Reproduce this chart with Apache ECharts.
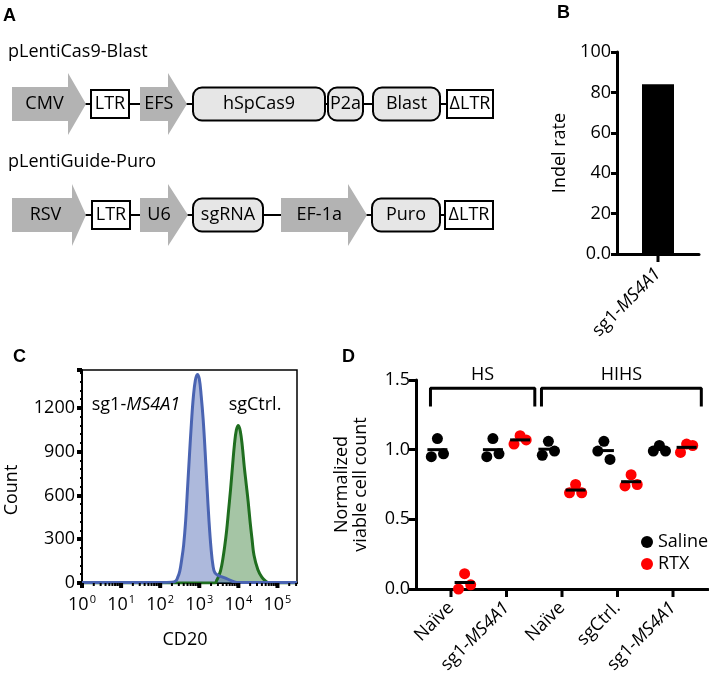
<!DOCTYPE html>
<html><head><meta charset="utf-8">
<script src="https://cdn.jsdelivr.net/npm/echarts@6/dist/echarts.min.js"></script>
<style>html,body{margin:0;padding:0;background:#fff}#c{width:709px;height:682px}</style>
</head><body><div id="c"></div>
<script>
// ---------------- DATA ----------------
// Panel A: vector constructs
const constructNames = ['pLentiCas9-Blast', 'pLentiGuide-Puro'];
const cas9Parts = ['CMV', 'LTR', 'EFS', 'hSpCas9', 'P2a', 'Blast', '\u0394LTR'];
const cas9Kinds = ['promoter', 'ltr', 'promoter', 'gene', 'gene', 'gene', 'ltr'];
const guideParts = ['RSV', 'LTR', 'U6', 'sgRNA', 'EF-1a', 'Puro', '\u0394LTR'];
const guideKinds = ['promoter', 'ltr', 'promoter', 'gene', 'promoter', 'gene', 'ltr'];

// Panel B: indel rate
const indelCategories = ['sg1-MS4A1'];
const indelRate = [84];
const indelTicks = [0, 20, 40, 60, 80, 100];

// Panel C: CD20 histograms (x = log10 CD20 intensity, y = count)
const sgMS4A1Log10 = [0, 1, 2, 2.3, 2.4, 2.45, 2.5, 2.55, 2.6, 2.65, 2.7, 2.75, 2.8, 2.85, 2.9, 2.95, 3.0, 3.05, 3.1, 3.15, 3.2, 3.25, 3.3, 3.35, 3.4, 3.5, 3.6, 3.7, 3.8, 3.9, 4.0, 5.5];
const sgMS4A1Count = [4, 4, 4, 6, 15, 40, 80, 160, 260, 420, 650, 880, 1100, 1280, 1390, 1430, 1400, 1280, 1120, 900, 650, 420, 240, 120, 70, 50, 40, 30, 18, 8, 4, 4];
const sgCtrlLog10 = [0, 3.4, 3.45, 3.5, 3.55, 3.6, 3.65, 3.7, 3.75, 3.8, 3.85, 3.9, 3.95, 4.0, 4.05, 4.1, 4.15, 4.2, 4.25, 4.3, 4.35, 4.4, 4.5, 4.6, 4.7, 4.8, 5.5];
const sgCtrlCount = [0, 0, 20, 50, 90, 160, 250, 360, 500, 640, 800, 950, 1050, 1080, 1040, 940, 800, 680, 560, 420, 300, 190, 90, 40, 12, 0, 0];
const countTicks = [0, 300, 600, 900, 1200];
const decadeTicks = [0, 1, 2, 3, 4, 5];

// Panel D: normalized viable cell count
const groupLabels = ['Na\u00efve', 'sg1-MS4A1', 'Na\u00efve', 'sgCtrl.', 'sg1-MS4A1'];
const bracketLabels = ['HS', 'HIHS'];
const bracketGroups = [[0, 1], [2, 4]];
const salineValues = [[0.95, 1.08, 0.97], [0.95, 1.08, 0.97], [0.96, 1.06, 0.99], [0.99, 1.06, 0.93], [0.99, 1.03, 0.99]];
const rtxValues = [[0.0, 0.11, 0.03], [1.04, 1.10, 1.07], [0.69, 0.75, 0.69], [0.74, 0.82, 0.75], [0.98, 1.04, 1.03]];
const viableTicks = [0, 0.5, 1.0, 1.5];

// ---------------- RENDER ----------------
const FONT = "'Open Sans', sans-serif";
const BOLD = "'Liberation Sans', Arial, sans-serif";
const chart = echarts.init(document.getElementById('c'));
const italicRich = {
  n: { fontSize: 18, fontFamily: FONT, color: '#000' },
  i: { fontSize: 18, fontFamily: FONT, color: '#000', fontStyle: 'italic' }
};
function richName(s) {
  const k = s.indexOf('MS4A1');
  if (k < 0) return '{n|' + s + '}';
  return '{n|' + s.slice(0, k) + '}{i|MS4A1}';
}

// ---- Panel A graphics ----
const G = [];
function text(x, y, t, o, rot) {
  const el = { type: 'text', x: x, y: y, z: 20, style: Object.assign({ text: t, fontSize: 18, fontFamily: FONT, fill: '#000', textAlign: 'center', textVerticalAlign: 'middle' }, o || {}) };
  if (rot) el.rotation = rot;
  G.push(el);
}
function drawConstruct(parts, kinds, layout, cy) {
  const BH = 34, HH = 62, GH = 33, LH = 28;
  const ends = [], starts = [];
  parts.forEach((p, i) => {
    const L = layout[i], k = kinds[i];
    if (k === 'promoter') {
      const [x0, x1, tip] = L;
      G.push({ type: 'polygon', z: 5, shape: { points: [[x0, cy - BH / 2], [x1, cy - BH / 2], [x1, cy - HH / 2], [tip, cy], [x1, cy + HH / 2], [x1, cy + BH / 2], [x0, cy + BH / 2]] }, style: { fill: '#b3b3b3' } });
      text((x0 + x1) / 2 + (tip - x1) * 0.25, cy, p);
      starts.push(x0); ends.push(tip);
    } else if (k === 'gene') {
      const [x0, x1] = L;
      G.push({ type: 'rect', z: 5, shape: { x: x0, y: cy - GH / 2, width: x1 - x0, height: GH, r: 9 }, style: { fill: '#e6e6e6', stroke: '#000', lineWidth: 2 } });
      text((x0 + x1) / 2, cy, p);
      starts.push(x0); ends.push(x1);
    } else {
      const [x0, x1] = L;
      G.push({ type: 'rect', z: 5, shape: { x: x0, y: cy - LH / 2, width: x1 - x0, height: LH }, style: { fill: '#fff', stroke: '#000', lineWidth: 2 } });
      text((x0 + x1) / 2, cy, p);
      starts.push(x0); ends.push(x1);
    }
  });
  for (let i = 0; i + 1 < parts.length; i++) {
    G.push({ type: 'line', z: 4, shape: { x1: ends[i] - 1, y1: cy, x2: starts[i + 1] + 1, y2: cy }, style: { stroke: '#000', lineWidth: 2 } });
  }
}
drawConstruct(cas9Parts, cas9Kinds, [[12, 68, 86], [91, 129], [140, 168, 187], [193, 325], [328, 363], [373, 440], [447, 493]], 104);
drawConstruct(guideParts, guideKinds, [[12, 72, 86], [92, 130], [140, 168, 188], [193, 263], [281, 348, 367], [372, 440], [445, 493]], 215);
text(8, 52, constructNames[0], { textAlign: 'left' });
text(8, 162, constructNames[1], { textAlign: 'left' });
// Panel letters
[['A', 3, 16], ['B', 557, 13], ['C', 13, 357], ['D', 342, 357]].forEach(a => text(a[1], a[2], a[0], { textAlign: 'left', fontFamily: BOLD, fontWeight: 'bold', fontSize: 18 }));
// Panel C annotations
G.push({ type: 'text', x: 136, y: 405, z: 20, style: { text: richName('sg1-MS4A1'), rich: italicRich, textAlign: 'center', textVerticalAlign: 'middle' } });
text(255, 405, 'sgCtrl.');
text(12, 490, 'Count', null, Math.PI / 2);
text(185, 640, 'CD20');

// ---- Panel D series data ----
const SAL_OFF = -0.245, RTX_OFF = 0.245, JIT = [-0.11, 0, 0.11];
const mean = a => a.reduce((s, v) => s + v, 0) / a.length;
const salinePts = [], rtxPts = [], meanPts = [];
salineValues.forEach((vals, g) => { vals.forEach((v, k) => salinePts.push([g + SAL_OFF + JIT[k], v])); meanPts.push([g + SAL_OFF, mean(vals)]); });
rtxValues.forEach((vals, g) => { vals.forEach((v, k) => rtxPts.push([g + RTX_OFF + JIT[k], v])); meanPts.push([g + RTX_OFF, mean(vals)]); });
const BR_TOP = 1.44, BR_LEG = 1.31;
const bracketSeries = bracketGroups.map((gr, b) => {
  const x0 = gr[0] - 0.37, x1 = gr[1] + 0.51;
  return {
    type: 'line', xAxisIndex: 2, yAxisIndex: 2, symbol: 'none', silent: true,
    lineStyle: { color: '#000', width: 3 },
    data: [[x0, BR_LEG], [x0, BR_TOP], [x1, BR_TOP], [x1, BR_LEG]],
    markPoint: {
      symbol: 'circle', symbolSize: 0,
      label: { show: true, position: 'top', distance: 4, formatter: bracketLabels[b], color: '#000', fontSize: 18, fontFamily: FONT },
      data: [{ coord: [(x0 + x1) / 2, BR_TOP] }]
    }
  };
});

const logMinor = [];
decadeTicks.forEach(d => { for (let k = 2; k <= 9; k++) { const v = d + Math.log10(k); if (v < 5.5) logMinor.push(v); } });

// Panel D geometry: group spacing (px) and grid
const D_LEFT = 416, D_WIDTH = 292, D_TOP = 380, D_HEIGHT = 209, D_G0 = 451, D_STEP = 55.5;
const dMin = (D_LEFT - D_G0) / D_STEP, dMax = (D_LEFT + D_WIDTH - D_G0) / D_STEP;

const tickLine = { color: '#000', width: 3 };
const option = {
  animation: false,
  backgroundColor: '#fff',
  textStyle: { fontFamily: FONT },
  graphic: G,
  grid: [
    { left: 617, top: 52, width: 82, height: 202 },
    { left: 82, top: 370, width: 215, height: 213, show: true, borderColor: '#000', borderWidth: 1.5, backgroundColor: 'transparent' },
    { left: D_LEFT, top: D_TOP, width: D_WIDTH, height: D_HEIGHT },
    { left: D_G0 - D_STEP / 2, top: D_TOP, width: D_STEP * groupLabels.length, height: D_HEIGHT }
  ],
  xAxis: [
    { gridIndex: 0, type: 'category', data: indelCategories,
      axisLine: { lineStyle: tickLine }, axisTick: { show: false },
      axisLabel: { rotate: 45, margin: 17, formatter: v => richName(v), rich: italicRich } },
    { gridIndex: 1, type: 'value', min: 0, max: 5.5, interval: 1,
      axisLine: { onZero: false, lineStyle: { color: '#000', width: 2 } },
      axisTick: { show: false }, minorTick: { show: false },
      splitLine: { show: false },
      axisLabel: { margin: 11, showMaxLabel: false, formatter: v => Number.isInteger(v) ? '{b|10}{s|' + v + '}' : '',
        rich: { b: { fontSize: 18, fontFamily: FONT, color: '#000', lineHeight: 22 }, s: { fontSize: 11, fontFamily: FONT, color: '#000', verticalAlign: 'top', lineHeight: 22, padding: [0, 0, 8, 1] } } } },
    { gridIndex: 2, type: 'value', min: dMin, max: dMax,
      axisLine: { onZero: false, lineStyle: tickLine },
      axisTick: { show: false }, axisLabel: { show: false },
      splitLine: { show: false } },
    { gridIndex: 3, type: 'category', data: groupLabels,
      axisLine: { show: false }, axisTick: { show: false },
      axisLabel: { rotate: 45, margin: 16, interval: 0, formatter: v => richName(v), rich: italicRich } }
  ],
  yAxis: [
    { gridIndex: 0, type: 'value', min: 0, max: 100, interval: 20,
      axisLine: { show: true, onZero: false, lineStyle: tickLine }, axisTick: { show: true, length: 6, lineStyle: tickLine },
      splitLine: { show: false },
      axisLabel: { color: '#000', fontSize: 18, fontFamily: FONT, margin: 6, formatter: v => v === 0 ? '0.0' : String(v) },
      name: 'Indel rate', nameLocation: 'middle', nameGap: 48, nameTextStyle: { color: '#000', fontSize: 18, fontFamily: FONT } },
    { gridIndex: 1, type: 'value', min: 0, max: 1460, interval: 300,
      axisLine: { show: true, onZero: false, lineStyle: { color: '#000', width: 2 } },
      axisTick: { show: true, length: 5, lineStyle: { color: '#000', width: 4 } },
      minorTick: { show: true, splitNumber: 5, length: 2, lineStyle: { color: '#000', width: 2 } },
      splitLine: { show: false },
      axisLabel: { showMaxLabel: false, color: '#000', fontSize: 18, fontFamily: FONT, margin: 7, formatter: v => (v % 300 === 0 ? String(v) : '') } },
    { gridIndex: 2, type: 'value', min: 0, max: 1.5, interval: 0.5,
      axisLine: { show: true, onZero: false, lineStyle: tickLine }, axisTick: { show: true, length: 7, lineStyle: tickLine },
      splitLine: { show: false },
      axisLabel: { color: '#000', fontSize: 18, fontFamily: FONT, margin: 6, formatter: v => v.toFixed(1) },
      name: 'Normalized\nviable cell count', nameLocation: 'middle', nameGap: 46,
      nameTextStyle: { color: '#000', fontSize: 18, fontFamily: FONT, lineHeight: 19 } },
    { gridIndex: 3, type: 'value', show: false, min: 0, max: 1.5 }
  ],
  legend: {
    data: ['Saline', 'RTX'], orient: 'vertical', left: 636, top: 527, itemGap: 2,
    icon: 'circle', itemWidth: 12, itemHeight: 12,
    textStyle: { color: '#000', fontSize: 18, fontFamily: FONT, lineHeight: 20 }
  },
  series: [
    { name: 'Indel', type: 'bar', xAxisIndex: 0, yAxisIndex: 0, data: indelRate, barWidth: 32, itemStyle: { color: '#000' } },
    { name: 'sgCtrl.', type: 'line', xAxisIndex: 1, yAxisIndex: 1, symbol: 'none', smooth: 0.4,
      data: sgCtrlLog10.map((x, i) => [x, sgCtrlCount[i]]),
      lineStyle: { color: '#1f6e1f', width: 3 }, areaStyle: { color: '#1f6e1f', opacity: 0.4 } },
    { name: 'sg1-MS4A1', type: 'line', xAxisIndex: 1, yAxisIndex: 1, symbol: 'none', smooth: 0.4,
      data: sgMS4A1Log10.map((x, i) => [x, sgMS4A1Count[i]]),
      lineStyle: { color: '#4a64b2', width: 3 }, areaStyle: { color: '#4a64b2', opacity: 0.45 } },
    { name: 'Saline', type: 'scatter', xAxisIndex: 2, yAxisIndex: 2, data: salinePts, symbolSize: 11, itemStyle: { color: '#000', opacity: 1 } },
    { name: 'RTX', type: 'scatter', xAxisIndex: 2, yAxisIndex: 2, data: rtxPts, symbolSize: 11, itemStyle: { color: '#ff0000', opacity: 1 } },
    { name: 'Mean', type: 'scatter', xAxisIndex: 2, yAxisIndex: 2, data: meanPts, symbol: 'rect', symbolSize: [20, 3], itemStyle: { color: '#000', opacity: 1 }, z: 5 },
    { name: 'groups', type: 'scatter', xAxisIndex: 3, yAxisIndex: 3, data: [], silent: true }
  ].concat(bracketSeries)
};
chart.setOption(option);

// x-axis tick marks, placed through the axes' own scales
const T = [];
function addTicks(xi, yi, positions, w, len, off) {
  positions.forEach(v => {
    const p = chart.convertToPixel({ xAxisIndex: xi, yAxisIndex: yi }, [v, 0]);
    if (!p || isNaN(p[0])) return;
    T.push({ type: 'rect', z: 30, silent: true, shape: { x: p[0] - w / 2, y: p[1] + off, width: w, height: len }, style: { fill: '#000' } });
  });
}
addTicks(0, 0, [0], 3, 7, 1);
addTicks(1, 1, decadeTicks, 4, 5, 0);
addTicks(1, 1, logMinor, 2, 3, 0);
addTicks(2, 2, [0, 1, 2, 3, 4], 3, 7, 1);
chart.setOption({ graphic: G.concat(T) });
</script></body></html>
